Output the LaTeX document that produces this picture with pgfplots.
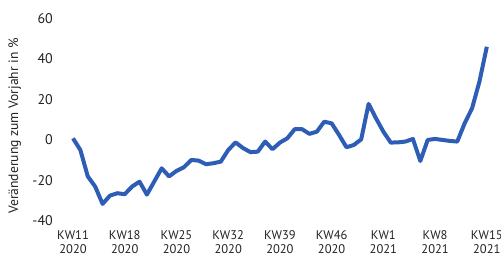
\documentclass[border=0pt]{standalone}
\usepackage{fontspec}
\setmainfont{PT Sans}
\usepackage{pgfplots}
\pgfplotsset{compat=1.18}
\definecolor{lineblue}{HTML}{2E5DB5}
\definecolor{txt}{HTML}{222222}
\begin{document}
\begin{tikzpicture}
\begin{axis}[
  x=5.5425pt, y=1.519pt,
  xmin=-2.7, xmax=57.9, ymin=-44.4, ymax=63,
  axis line style={draw=none},
  tick style={draw=none},
  major tick length=0pt,
  clip=false,
  xtick={0,7,14,21,28,35,42,49,56},
  xticklabels={{KW11\\2020},{KW18\\2020},{KW25\\2020},{KW32\\2020},{KW39\\2020},{KW46\\2020},{KW1\\2021},{KW8\\2021},{KW15\\2021}},
  xticklabel style={align=center, font=\fontsize{9.4}{10.6}\selectfont, text=txt, inner sep=0pt, yshift=0pt},
  ytick={-40,-20,0,20,40,60},
  yticklabels={-40,-20,0,20,40,60},
  yticklabel style={font=\fontsize{10.5}{12}\selectfont, text=txt, inner sep=0pt},
  ylabel={Veränderung zum Vorjahr in \%},
  ylabel style={at={(axis cs:-7.9,6.9)}, anchor=center, rotate=0, font=\fontsize{10.2}{12}\selectfont, text=txt},
]
\addplot[lineblue, line width=3pt, line join=round] coordinates {
(0,0.8) (1,-5) (2,-18) (3,-23) (4,-31.6) (5,-27.5) (6,-26.3) (7,-26.8)
(8,-23) (9,-20.6) (10,-27) (11,-20.5) (12,-14) (13,-18) (14,-15.3) (15,-13.5)
(16,-9.9) (17,-10.2) (18,-12) (19,-11.5) (20,-10.7) (21,-5) (22,-1.2) (23,-4)
(24,-6) (25,-5.8) (26,-0.8) (27,-4.6) (28,-1.3) (29,0.8) (30,5.3) (31,5.3)
(32,3) (33,4.1) (34,9) (35,8.2) (36,2.5) (37,-3.6) (38,-2.5) (39,0.3)
(40,17.8) (41,10.7) (42,4.1) (43,-1.3) (44,-1.2) (45,-0.8) (46,0.5) (47,-10.4)
(48,0) (49,0.5) (50,0) (51,-0.5) (52,-0.8) (53,8.2) (54,15.6) (55,28.8) (56,46)
};
\coordinate (bl) at (axis cs:-9.88,-57.8);
\coordinate (tr) at (axis cs:57.92,69.1);
\end{axis}
\pgfresetboundingbox
\path[use as bounding box] (bl) rectangle (tr);
\end{tikzpicture}
\end{document}
